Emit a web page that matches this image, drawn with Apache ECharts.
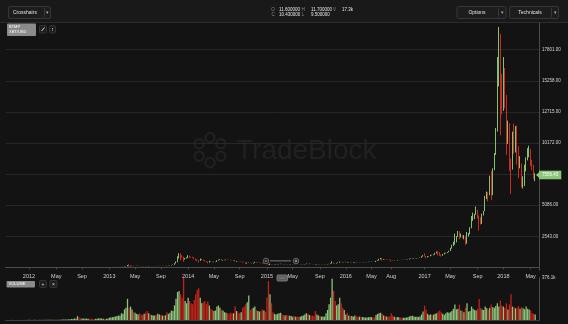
<!DOCTYPE html>
<html><head><meta charset="utf-8">
<script src="https://cdn.jsdelivr.net/npm/echarts@6/dist/echarts.min.js"></script>
<style>html,body{margin:0;padding:0;background:#131313;overflow:hidden}#c{width:568px;height:324px}</style>
</head><body><div id="c"></div>
<script>
// weekly candles [open, close, low, high], weeks start Monday 2011-09-19
const ohlc2011 = [[5.6,5.2,4.9,6.0],[5.2,5.0,4.8,5.4],[5.0,4.8,4.6,5.2],[4.8,4.0,3.9,4.9],[4.0,3.0,2.3,4.1],[3.0,3.2,2.9,3.6],[3.2,3.2,3.0,3.5],[3.2,3.0,2.9,3.3],[3.0,2.3,2.0,3.1],[2.3,2.5,2.2,2.6],[2.5,2.9,2.5,3.1],[2.9,3.0,2.8,3.2],[3.0,3.2,3.0,3.3],[3.2,3.9,3.2,4.2],[3.9,4.7,3.8,4.8]];
const ohlc2012 = [[4.7,6.8,4.7,7.2],[6.8,6.4,6.2,7.1],[6.4,6.2,5.9,6.6],[6.2,5.6,5.5,6.4],[5.6,5.9,5.4,6.2],[5.9,5.8,5.6,6.1],[5.8,4.4,4.2,5.9],[4.4,5.0,4.3,5.1],[5.0,4.9,4.7,5.1],[4.9,5.0,4.8,5.1],[5.0,5.3,4.9,5.4],[5.3,4.8,4.7,5.4],[4.8,4.9,4.7,5.0],[4.9,4.9,4.8,5.0],[4.9,4.9,4.8,5.0],[4.9,5.2,4.9,5.3],[5.2,5.1,5.0,5.2],[5.1,5.1,5.0,5.2],[5.1,5.0,4.9,5.2],[5.0,5.1,5.0,5.2],[5.1,5.1,5.0,5.2],[5.1,5.3,5.1,5.4],[5.3,5.6,5.2,5.7],[5.6,6.0,5.6,6.1],[6.0,6.4,5.9,6.5],[6.4,6.7,6.3,6.8],[6.7,6.8,6.6,7.0],[6.8,7.5,6.8,7.7],[7.5,8.7,7.5,9.0],[8.7,8.9,8.3,9.2],[8.9,10.9,8.9,11.0],[10.9,11.0,10.5,11.3],[11.0,11.9,7.9,15.4],[11.9,10.5,9.5,11.9],[10.5,10.3,9.9,10.9],[10.3,11.0,10.2,11.1],[11.0,11.7,10.9,11.8],[11.7,12.3,11.6,12.5],[12.3,12.4,12.0,12.6],[12.4,12.6,12.2,12.9],[12.6,11.9,11.6,12.8],[11.9,11.7,11.5,12.0],[11.7,10.9,10.6,11.8],[10.9,10.8,10.5,11.0],[10.8,10.9,10.7,11.0],[10.9,11.2,10.8,11.4],[11.2,12.3,11.1,12.5],[12.3,12.6,12.1,12.8],[12.6,13.4,12.5,13.6],[13.4,13.5,13.2,13.7],[13.5,13.3,13.0,13.6],[13.3,13.4,13.1,13.5],[13.4,13.5,13.2,13.7]];
const ohlc2013 = [[13.5,14.1,13.3,14.4],[14.1,15.7,14.0,16.0],[15.7,17.5,15.5,18.0],[17.5,20.4,17.0,20.8],[20.4,22.6,20.0,23.0],[22.6,27.0,22.4,27.5],[27.0,29.9,26.5,30.5],[29.9,34.5,29.5,34.9],[34.5,46.0,34.0,48.0],[46.0,47.0,37.0,48.5],[47.0,71.5,46.5,74.0],[71.5,93.0,70.0,95.0],[93,162,92,194],[162,90,50,266],[90,119,80,130],[119,135,115,145],[135,112,95,140],[112,117,108,120],[117,122,113,125],[122,133,121,134],[133,123,119,133],[123,108,103,125],[108,100,96,110],[100,108,98,112],[108,90,88,110],[90,76,66,91],[76,97,75,100],[97,90,88,99],[90,95,87,97],[95,104,94,106],[104,106,102,108],[106,104,100,108],[104,122,103,124],[122,129,120,131],[129,120,118,130],[120,131,119,133],[131,124,122,132],[124,133,123,134],[133,122,90,140],[122,134,121,136],[134,162,133,165],[162,185,160,195],[185,215,184,222],[215,330,214,340],[330,420,320,480],[420,750,420,900],[750,1050,740,1163],[1050,900,576,1150],[900,870,800,1000],[870,680,455,880],[680,740,640,780],[740,780,720,820]];
const ohlc2014 = [[780,900,760,1000],[900,840,800,960],[840,830,790,870],[830,820,770,860],[820,690,670,830],[690,640,580,720],[640,580,500,660],[580,560,410,620],[560,630,540,720],[630,630,600,660],[630,560,550,640],[560,480,470,590],[480,450,430,510],[450,420,340,470],[420,500,400,540],[500,460,440,510],[460,440,420,470],[440,440,420,460],[440,450,430,460],[450,570,445,580],[570,630,560,640],[630,660,620,680],[660,590,560,670],[590,590,560,610],[590,600,580,610],[600,630,595,650],[630,625,610,640],[625,620,610,630],[620,600,590,630],[600,590,580,610],[590,590,570,600],[590,500,480,595],[500,500,460,520],[500,480,475,515],[480,475,470,490],[475,475,465,485],[475,400,395,480],[400,380,375,420],[380,330,300,410],[330,375,310,400],[375,385,370,400],[385,355,350,390],[355,325,320,365],[325,370,320,380],[370,390,365,460],[390,370,360,400],[370,375,365,390],[375,375,365,385],[375,350,345,380],[350,320,310,355],[320,320,310,335],[320,315,310,325]];
const ohlc2015 = [[315,270,260,320],[270,200,170,285],[200,250,195,310],[250,230,220,260],[230,225,215,245],[225,235,215,240],[235,240,230,260],[240,260,235,265],[260,275,255,290],[275,285,270,300],[285,260,255,290],[260,250,240,270],[250,255,240,260],[255,235,230,260],[235,225,215,240],[225,225,215,235],[225,240,220,245],[240,240,230,245],[240,236,232,245],[236,240,232,242],[240,230,225,242],[230,226,220,232],[226,233,224,236],[233,245,230,250],[245,250,240,255],[250,270,245,275],[270,290,265,310],[290,275,270,295],[275,290,270,300],[290,285,280,295],[285,265,260,290],[265,260,255,270],[260,225,195,265],[225,230,210,235],[230,240,225,245],[240,230,225,245],[230,230,225,235],[230,235,225,240],[235,240,230,245],[240,245,235,250],[245,270,245,275],[270,285,265,290],[285,325,280,330],[325,385,320,500],[385,330,300,390],[330,325,310,340],[325,360,320,370],[360,390,355,400],[390,460,385,470],[460,440,420,470],[440,420,400,450],[420,430,415,440]];
const ohlc2016 = [[430,448,425,465],[448,385,365,455],[385,390,375,410],[390,370,365,400],[370,375,365,380],[375,400,370,405],[400,440,395,445],[440,430,415,445],[430,410,405,440],[410,415,405,420],[415,410,405,420],[410,415,405,420],[415,420,410,425],[420,420,415,425],[420,430,415,432],[430,450,428,455],[450,455,445,470],[455,460,440,462],[460,455,448,465],[455,440,436,458],[440,530,440,535],[530,580,520,590],[580,670,570,700],[670,760,665,780],[760,665,550,765],[665,680,630,690],[680,650,640,690],[650,665,645,670],[665,655,650,680],[655,625,620,660],[625,590,480,630],[590,570,560,600],[570,580,565,590],[580,575,570,585],[575,605,570,610],[605,610,600,615],[610,605,600,612],[605,600,595,610],[600,615,595,620],[615,615,608,620],[615,640,612,645],[640,655,635,660],[655,700,650,710],[700,705,690,740],[705,705,690,715],[705,730,700,745],[730,735,725,745],[735,765,730,770],[765,770,755,775],[770,790,765,800],[790,890,785,900],[890,1000,880,1000]];
const ohlc2017 = [[1000,910,880,1150],[910,830,750,920],[830,920,820,930],[920,920,890,930],[920,1020,915,1030],[1020,1000,950,1050],[1000,1050,990,1060],[1050,1170,1040,1190],[1170,1270,1150,1290],[1270,1230,980,1330],[1230,1020,950,1260],[1020,960,890,1060],[960,1080,950,1100],[1080,1180,1060,1200],[1180,1180,1150,1210],[1180,1240,1170,1250],[1240,1350,1235,1360],[1350,1550,1340,1600],[1550,1750,1540,1850],[1750,2050,1740,2100],[2050,2100,1850,2760],[2100,2500,2050,2550],[2500,2900,2490,2980],[2900,2500,2300,2950],[2500,2600,2450,2770],[2600,2500,2400,2620],[2500,2500,2300,2650],[2500,1950,1840,2540],[1950,2750,1940,2900],[2750,2750,2520,2820],[2750,3250,2700,3290],[3250,4050,3200,4200],[4050,4100,3800,4480],[4100,4350,3950,4380],[4350,4600,4300,4980],[4600,4200,4000,4700],[4200,3700,3000,4250],[3700,3600,3500,4100],[3600,4350,3550,4400],[4350,4600,4250,4620],[4600,5700,4600,5850],[5700,6000,5580,6200],[6000,5900,5400,6150],[5900,7350,5900,7500],[7350,5950,5500,7880],[5950,8000,5900,8100],[8000,9300,7950,9350],[9300,11300,9200,11400],[11300,15000,11100,17200],[15000,19000,14800,19660],[19000,14000,10800,19100],[14000,13800,12500,15800]];
const ohlc2018 = [[13800,16200,12800,17200],[16200,13600,13000,16300],[13600,11500,9200,14100],[11500,11700,10100,12000],[11700,8200,7900,11800],[8200,8100,6000,8900],[8100,10400,8000,11100],[10400,9600,9300,11750],[9600,11500,9400,11550],[11500,9500,8400,11600],[9500,8200,7300,9900],[8200,8500,8100,9100],[8500,6900,6550,8500],[6900,7000,6450,7450],[7000,8350,6650,8400],[8350,8900,7850,9000],[8900,9350,8750,9750],[9350,9650,9000,9950],[9650,8700,8300,9700],[8700,8250,7950,8800],[8250,7350,7250,8400],[7350,7556.43,7050,7700]];

// weekly volume, thousands
const vol2011 = [0.5,0.6,0.5,0.8,1.2,0.9,0.7,0.8,1.1,0.9,0.8,0.7,0.8,1.0,1.2];
const vol2012 = [1.5,1.2,1.4,1.1,1.3,1.2,2.0,1.5,1.3,1.4,1.6,2.5,1.8,1.7,2.2,1.9,2.1,2.4,2.6,3.0,2.8,3.2,3.5,4.0,4.5,5.0,6,7,9,8,14,12,35,22,16,13,12,14,12,11,10,13,9,10,11,12,15,13,14,12,10,11,12];
const vol2013 = [20,22,25,28,30,35,40,38,60,55,95,110,190,110,120,95,70,65,55,50,60,50,45,55,65,80,60,50,45,40,40,45,55,50,45,40,38,42,70,55,65,85,80,130,190,250,260,230,200,376.1,170,150];
const vol2014 = [200,170,150,140,180,230,270,284,200,150,160,170,140,165,130,100,90,80,85,120,130,110,90,85,70,65,60,55,65,60,60,120,80,65,60,70,110,120,140,160,220,90,100,110,120,90,80,75,80,95,85,70];
const vol2015 = [200,348,230,150,70,55,50,55,60,65,50,45,40,45,40,38,35,30,35,28,30,28,30,35,40,50,60,55,45,40,38,35,80,50,40,35,30,32,30,60,90,140,200,370,260,170,130,140,200,150,110,90];
const vol2016 = [50,65,40,35,35,30,40,32,30,30,28,26,25,22,22,25,26,25,24,22,45,55,60,65,55,40,35,32,30,32,60,40,28,25,26,25,22,20,20,20,22,25,32,36,38,32,28,30,28,32,50,75];
const vol2017 = [128,95,55,45,50,45,50,55,60,75,85,70,55,45,60,70,65,70,80,100,138,95,100,138,85,80,70,110,150,75,80,120,100,90,85,100,188,110,95,90,120,105,95,110,138,115,110,125,150,120,175,130];
const vol2018 = [120,110,150,95,140,230,120,115,105,110,125,100,115,105,95,120,100,95,85,60,55,50];

const weekStart = [2011, 8, 19];
const extraWeeks = 2;
const tickDates = ['2012-01-02','2012-05-07','2012-09-03','2013-01-07','2013-05-06','2013-09-02','2014-01-06','2014-05-05','2014-09-01','2015-01-05','2015-05-04','2015-09-07','2016-01-04','2016-05-02','2016-08-01','2017-01-02','2017-05-01','2017-09-04','2018-01-01','2018-05-07'];
const tickLabels = ['2012','May','Sep','2013','May','Sep','2014','May','Sep','2015','May','Sep','2016','May','Aug','2017','May','Sep','2018','May'];
const priceStep = 2543;
const priceMax = 19820;
const volMax = 376.1;

const candles = [].concat(ohlc2011, ohlc2012, ohlc2013, ohlc2014, ohlc2015, ohlc2016, ohlc2017, ohlc2018);
const vols = [].concat(vol2011, vol2012, vol2013, vol2014, vol2015, vol2016, vol2017, vol2018);

const categories = [];
const t0 = Date.UTC(weekStart[0], weekStart[1], weekStart[2]);
for (let i = 0; i < candles.length + extraWeeks; i++) {
  categories.push(new Date(t0 + i * 7 * 86400000).toISOString().slice(0, 10));
}
const labelMap = {};
tickDates.forEach((d, i) => { labelMap[d] = tickLabels[i]; });
const isTick = (idx, val) => labelMap[val] !== undefined;

const UP = '#86bf72', DOWN = '#cc2a1f';
const VUP = '#8ec57b', VDOWN = '#c4231b';
const TAG = '#8cc679';
const FONT = '"Liberation Sans", Arial, sans-serif';
const lastClose = candles[candles.length - 1][1];

const volData = vols.map((v, i) => ({
  value: v,
  itemStyle: { color: candles[i][1] >= candles[i][0] ? VUP : VDOWN }
}));

const chart = echarts.init(document.getElementById('c'), null, { renderer: 'canvas', width: 568, height: 324 });

chart.setOption({
  backgroundColor: '#131313',
  animation: false,
  grid: [
    { left: 5.5, right: 29, top: 25, bottom: 56.6 },
    { left: 5.5, right: 29, top: 278, bottom: 4 }
  ],
  xAxis: [
    {
      type: 'category', gridIndex: 0, data: categories, boundaryGap: true, offset: 3,
      axisLine: { lineStyle: { color: '#4c4c4c', width: 1 } },
      axisTick: { show: true, interval: isTick, alignWithLabel: true, length: 2, lineStyle: { color: '#4c4c4c' } },
      axisLabel: { interval: isTick, formatter: v => labelMap[v] || '', color: '#d0d0d0', fontSize: 5.5, fontFamily: FONT, margin: 3 },
      splitLine: { show: false }
    },
    {
      type: 'category', gridIndex: 1, data: categories, boundaryGap: true,
      axisLine: { lineStyle: { color: '#3c3c3c' } },
      axisTick: { show: false }, axisLabel: { show: false }, splitLine: { show: false }
    }
  ],
  yAxis: [
    {
      type: 'value', gridIndex: 0, position: 'right', min: 0, max: priceMax, interval: priceStep,
      axisLine: { show: true, lineStyle: { color: '#4c4c4c' } },
      axisTick: { show: false },
      axisLabel: { color: '#d6d6d6', fontSize: 4.5, fontFamily: FONT, margin: 3, showMinLabel: false, showMaxLabel: false, formatter: v => v.toFixed(2) },
      splitLine: { show: true, showMinLine: false, showMaxLine: false, lineStyle: { color: '#272727', width: 1 } }
    },
    {
      type: 'value', gridIndex: 1, position: 'right', min: 0, max: volMax, interval: volMax,
      axisLine: { show: true, lineStyle: { color: '#4c4c4c' } },
      axisTick: { show: false },
      axisLabel: { color: '#d6d6d6', fontSize: 4.5, fontFamily: FONT, margin: 3, showMinLabel: false, formatter: v => v.toFixed(1) + 'k' },
      splitLine: { show: false }
    }
  ],
  series: [
    {
      type: 'candlestick', xAxisIndex: 0, yAxisIndex: 0, data: candles,
      itemStyle: { color: UP, color0: DOWN, borderColor: UP, borderColor0: DOWN, borderWidth: 1 },
      markLine: {
        silent: true, symbol: ['none', 'none'], z: 10,
        lineStyle: { color: 'rgba(0,0,0,0)', width: 0 },
        label: {
          show: true, position: 'end', distance: 0, formatter: p => Number(p.value).toFixed(2),
          backgroundColor: TAG, color: '#ffffff', fontSize: 4.5, fontFamily: FONT,
          padding: [1.8, 3, 1.8, 3], borderRadius: 0, opacity: 1
        },
        data: [{ yAxis: lastClose }]
      }
    },
    {
      type: 'bar', xAxisIndex: 1, yAxisIndex: 1, data: volData, barCategoryGap: '15%'
    }
  ]
});

const tagY = chart.convertToPixel({ yAxisIndex: 0 }, lastClose);

function txt(x, y, s, size, fill, align, extra) {
  return Object.assign({ type: 'text', x: x, y: y, silent: true,
    style: { text: s, fontSize: size, fontFamily: FONT, fill: fill, align: align || 'left', verticalAlign: 'middle' } }, extra || {});
}
function box(x, y, w, h, fill, stroke, r) {
  return { type: 'rect', silent: true, shape: { x: x, y: y, width: w, height: h, r: r || 0 },
    style: { fill: fill, stroke: stroke || null, lineWidth: 1 } };
}
function line(x1, y1, x2, y2, stroke, w) {
  return { type: 'line', silent: true, shape: { x1: x1, y1: y1, x2: x2, y2: y2 }, style: { stroke: stroke, lineWidth: w || 1 } };
}

const hexDots = [];
for (let k = 0; k < 6; k++) {
  const a = Math.PI / 6 + k * Math.PI / 3;
  hexDots.push({ type: 'circle', silent: true, z: -1, shape: { cx: 210 + 12.5 * Math.cos(a), cy: 150 + 12.5 * Math.sin(a), r: 4.6 }, style: { fill: 'none', stroke: '#212121', lineWidth: 2.2 } });
}

chart.setOption({
  graphic: { elements: [
    box(0, 0, 568, 22, '#191919'),
    line(0, 22.5, 568, 22.5, '#2c2c2c'),
    // watermark
    ...hexDots,
    txt(236, 151, 'TradeBlock', 28, '#212121', 'left', { z: -1 }),
    // crosshairs dropdown
    box(8.5, 6.5, 42, 12, '#1d1d1d', '#363636', 1.5),
    txt(13, 12.8, 'Crosshairs', 5, '#e0e0e0'),
    line(44.5, 8, 44.5, 17, '#363636'),
    txt(47.5, 12.5, '▾', 4.5, '#aaaaaa', 'center'),
    // OHLC readout
    txt(273, 9.5, 'O', 4.5, '#8a8a8a', 'center'), txt(279, 9.5, '11.600000', 4.5, '#e6e6e6'),
    txt(303, 9.5, 'H', 4.5, '#8a8a8a', 'center'), txt(311, 9.5, '11.700000', 4.5, '#e6e6e6'),
    txt(334.5, 9.5, 'V', 4.5, '#8a8a8a', 'center'), txt(342, 9.5, '17.3k', 4.5, '#e6e6e6'),
    txt(273, 14.5, 'C', 4.5, '#8a8a8a', 'center'), txt(279, 14.5, '10.430000', 4.5, '#e6e6e6'),
    txt(303, 14.5, 'L', 4.5, '#8a8a8a', 'center'), txt(311, 14.5, '9.500000', 4.5, '#e6e6e6'),
    // Options / Technicals
    box(457, 6.5, 49, 12, '#1d1d1d', '#363636', 1.5),
    txt(477, 12.8, 'Options', 5, '#e0e0e0', 'center'),
    line(498.5, 8, 498.5, 17, '#363636'),
    txt(502.5, 12.5, '▾', 4.5, '#aaaaaa', 'center'),
    box(509.5, 6.5, 49, 12, '#1d1d1d', '#363636', 1.5),
    txt(530, 12.8, 'Technicals', 5, '#e0e0e0', 'center'),
    line(551.5, 8, 551.5, 17, '#363636'),
    txt(555, 12.5, '▾', 4.5, '#aaaaaa', 'center'),
    // series label
    box(7, 23.5, 29, 12.5, '#8b8b8b', null, 1),
    txt(9, 27, 'BTMP', 4, '#ffffff'),
    txt(9, 32, 'XBT/USD', 4, '#ffffff'),
    box(39.5, 25.5, 7, 7.5, '#1e1e1e', '#333333', 1),
    line(41.5, 31, 44.5, 27.5, '#dddddd', 1),
    box(49.5, 25.5, 6, 7.5, '#1e1e1e', '#333333', 1),
    txt(52.5, 29.3, '↕', 5, '#dddddd', 'center'),
    // axis extensions
    line(539.5, 22.5, 539.5, 25, '#4c4c4c'),
    line(539.5, 267.4, 539.5, 270.5, '#4c4c4c'),
    // zoom controls
    { type: 'circle', silent: true, shape: { cx: 266, cy: 261, r: 2.8 }, style: { fill: '#1c1c1c', stroke: '#7a7a7a', lineWidth: 0.8 } },
    line(264.6, 261, 267.4, 261, '#bbbbbb', 0.8),
    line(270, 260.8, 291, 260.8, '#5a5a5a', 1.5),
    { type: 'circle', silent: true, shape: { cx: 296, cy: 261, r: 2.8 }, style: { fill: '#1c1c1c', stroke: '#7a7a7a', lineWidth: 0.8 } },
    line(294.6, 261, 297.4, 261, '#bbbbbb', 0.8),
    line(296, 259.6, 296, 262.4, '#bbbbbb', 0.8),
    box(277, 275, 10.5, 6, '#5e5e5e', '#777777', 1),
    line(279, 278, 285.5, 278, '#8a8a8a', 0.8),
    // volume label
    box(6.5, 281, 28.5, 6.5, '#8b8b8b', null, 1),
    txt(8.5, 284.3, 'VOLUME', 4, '#ffffff'),
    box(39.5, 280.5, 7, 7, '#1e1e1e', '#333333', 1),
    txt(43, 284.2, '+', 5, '#dddddd', 'center'),
    box(50, 280.5, 7, 7, '#1e1e1e', '#333333', 1),
    txt(53.5, 284.2, '×', 5, '#dddddd', 'center'),
    // price tag pointer
    { type: 'polygon', silent: true, z: 10, shape: { points: [[536, tagY], [539.6, tagY - 3.2], [539.6, tagY + 3.2]] }, style: { fill: TAG } }
  ] }
});
</script>
</body></html>
